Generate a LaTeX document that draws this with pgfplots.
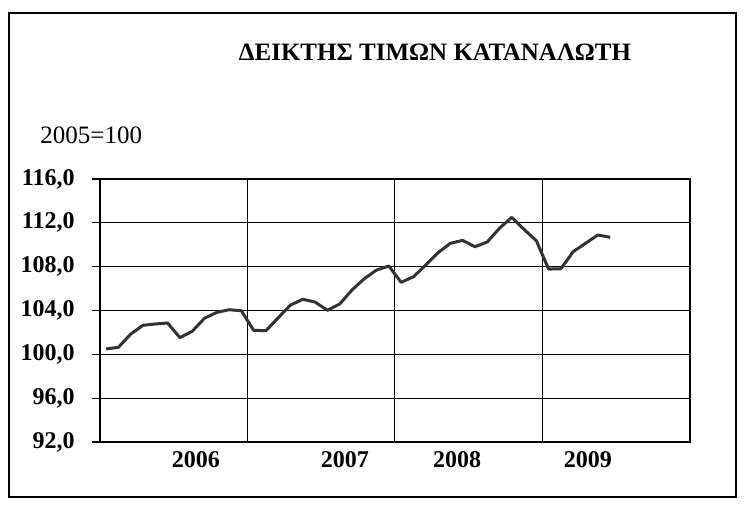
\documentclass[border=0pt]{standalone}
\usepackage{fontspec}
\setmainfont{Liberation Serif}
\usepackage{pgfplots}
\pgfplotsset{compat=1.18}
\pgfplotstableread{
x y
0.5 100.49
1.5 100.64
2.5 101.85
3.5 102.65
4.5 102.77
5.5 102.86
6.5 101.52
7.5 102.10
8.5 103.29
9.5 103.83
10.5 104.07
11.5 103.98
12.5 102.19
13.5 102.16
14.5 103.34
15.5 104.50
16.5 105.02
17.5 104.77
18.5 104.02
19.5 104.59
20.5 105.87
21.5 106.90
22.5 107.69
23.5 108.06
24.5 106.57
25.5 107.08
26.5 108.15
27.5 109.27
28.5 110.13
29.5 110.40
30.5 109.82
31.5 110.25
32.5 111.50
33.5 112.50
34.5 111.40
35.5 110.37
36.5 107.78
37.5 107.81
38.5 109.37
39.5 110.13
40.5 110.89
41.5 110.68
}\cpi
\begin{document}
\begin{tikzpicture}
\useasboundingbox (0,0) rectangle (372.5pt,252pt);
\draw[line width=1pt] (4.5pt,3.5pt) rectangle (368pt,245.5pt);
\node[font=\fontsize{12.5}{14}\selectfont\bfseries] at (217.5pt,226pt) {ΔΕΙΚΤΗΣ ΤΙΜΩΝ ΚΑΤΑΝΑΛΩΤΗ};
\node[font=\fontsize{12.5}{14}\selectfont, anchor=west, inner sep=0pt] at (20pt,184.5pt) {2005=100};
\begin{axis}[
  at={(50pt,31pt)}, anchor=south west,
  width=295pt, height=131.5pt, scale only axis,
  xmin=0, xmax=48, ymin=92, ymax=116,
  ytick={92,96,...,116},
  xtick={12,24,36}, xticklabels={},
  extra x ticks={7.81,19.93,29.05,39.7},
  extra x tick labels={2006,2007,2008,2009},
  extra x tick style={grid=none, major tick length=0pt},
  xmajorgrids, ymajorgrids,
  grid style={black, line width=0.5pt},
  axis line style={black, line width=0.8pt},
  tick align=outside, major tick length=4pt,
  ytick pos=left, xtick pos=bottom,
  tick style={black, line width=0.6pt},
  xtick style={draw=none},
  /pgf/number format/assume math mode=true,
  /pgf/number format/.cd, fixed, fixed zerofill, precision=1, use comma, 1000 sep={},
  /pgfplots/.cd,
  ticklabel style={font=\fontsize{12}{14}\selectfont\bfseries},
  yticklabel style={anchor=east, inner sep=0pt, xshift=-8.5pt},
  xticklabel style={anchor=north, inner sep=0pt, yshift=-4.5pt},
]
\addplot[color=black!80, line width=1.5pt, line join=round] table[x=x,y=y]{\cpi};
\draw[black, line width=0.5pt] (axis cs:12,92) -- ++(0,-2pt);
\draw[black, line width=0.5pt] (axis cs:24,92) -- ++(0,-2pt);
\draw[black, line width=0.5pt] (axis cs:36,92) -- ++(0,-2pt);
\end{axis}
\end{tikzpicture}
\end{document}
